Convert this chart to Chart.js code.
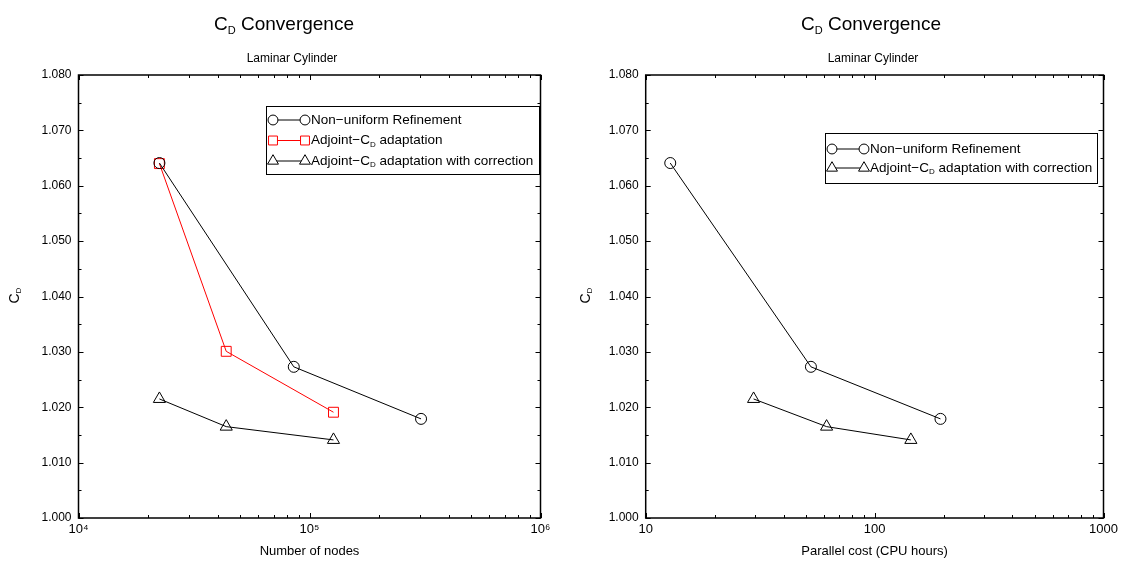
<!DOCTYPE html>
<html>
<head>
<meta charset="utf-8">
<script src="https://cdn.jsdelivr.net/npm/chart.js@4/dist/chart.umd.min.js"></script>
<style>
  html, body { margin: 0; padding: 0; background: #fff; }
  #wrap { position: relative; width: 1122px; height: 563px; background: #fff; overflow: hidden; font-family: "Liberation Sans", Arial, sans-serif; color: #000; }
  canvas { position: absolute; top: 0; }
  .title { position: absolute; width: 400px; text-align: center; font-size: 19px; white-space: nowrap; }
  .title sub { font-size: 11px; vertical-align: -4px; }
  .sub { position: absolute; width: 400px; text-align: center; font-size: 12px; white-space: nowrap; }
</style>
</head>
<body>
<div id="wrap">
  <canvas id="left" width="561" height="563" style="left:0px"></canvas>
  <canvas id="right" width="561" height="563" style="left:561px"></canvas>
  <div class="title" style="left:84px; top:13px;">C<sub>D</sub> Convergence</div>
  <div class="sub" style="left:92px; top:51px;">Laminar Cylinder</div>
  <div class="title" style="left:671px; top:13px;">C<sub>D</sub> Convergence</div>
  <div class="sub" style="left:673px; top:51px;">Laminar Cylinder</div>
</div>
<script>
// ---- data ----
const nodesNonUniform = [22400, 85500, 304000];
const nodesAdjoint    = [22400, 43600, 127000];
const nodesCorrected  = [22400, 43600, 127000];
const costNonUniform  = [12.8, 52.7, 194];
const costCorrected   = [29.6, 61.7, 144];
const cdNonUniform    = [1.0641, 1.0273, 1.0179];
const cdAdjoint       = [1.0640, 1.0301, 1.0191];
const cdCorrected     = [1.0215, 1.0165, 1.0141];

const yTicks = [1.000, 1.010, 1.020, 1.030, 1.040, 1.050, 1.060, 1.070, 1.080];
const xTicksLeft = [1e4, 1e5, 1e6];
const xTickLabelsLeft = ['10\u2074', '10\u2075', '10\u2076'];
const xTicksRight = [10, 100, 1000];
const xTickLabelsRight = ['10', '100', '1000'];

const labelNonUniform = 'Non\u2212uniform Refinement';
const labelAdjoint = 'Adjoint\u2212C_D adaptation';
const labelCorrected = 'Adjoint\u2212C_D adaptation with correction';

const FONT = '"Liberation Sans", Arial, sans-serif';

function pts(xs, ys) { return xs.map((x, i) => ({ x: x, y: ys[i] })); }

function drawRich(ctx, text, x, y, size) {
  // supports "_X" single-char subscripts
  const parts = text.split(/_(.)/);
  let cx = x;
  ctx.textBaseline = 'middle';
  ctx.textAlign = 'left';
  for (let i = 0; i < parts.length; i++) {
    if (i % 2 === 0) {
      ctx.font = size + 'px ' + FONT;
      ctx.fillText(parts[i], cx, y);
      cx += ctx.measureText(parts[i]).width;
    } else {
      const s = Math.round(size * 0.6);
      ctx.font = s + 'px ' + FONT;
      ctx.fillText(parts[i], cx, y + size * 0.3);
      cx += ctx.measureText(parts[i]).width;
    }
  }
}

const framePlugin = {
  id: 'frameTicks',
  afterDraw(chart, args, opts) {
    const ctx = chart.ctx, a = chart.chartArea;
    const xs = chart.scales.x, ys = chart.scales.y;
    ctx.save();
    ctx.strokeStyle = '#000';
    ctx.lineWidth = 1;
    for (let k = 0; k <= 16; k++) {
      const v = 1.0 + k * 0.005;
      const py = Math.round(ys.getPixelForValue(v)) + 0.5;
      const len = (k % 2 === 0) ? 5 : 3;
      ctx.beginPath();
      ctx.moveTo(a.left, py); ctx.lineTo(a.left + len, py);
      ctx.moveTo(a.right, py); ctx.lineTo(a.right - len, py);
      ctx.stroke();
    }
    for (let d = xs.min; d < xs.max * 1.0001; d *= 10) {
      for (let k = 1; k <= 9; k++) {
        const v = k * d;
        if (v > xs.max * 1.0001) break;
        const px = Math.round(xs.getPixelForValue(v)) + 0.5;
        const len = (k === 1) ? 5 : 3;
        ctx.beginPath();
        ctx.moveTo(px, a.bottom); ctx.lineTo(px, a.bottom - len);
        ctx.moveTo(px, a.top); ctx.lineTo(px, a.top + len);
        ctx.stroke();
      }
    }
    ctx.lineWidth = 1.5;
    ctx.strokeRect(a.left, a.top, a.right - a.left, a.bottom - a.top);
    ctx.fillStyle = '#000';
    ctx.translate(opts.yTitleX, (a.top + a.bottom) / 2);
    ctx.rotate(-Math.PI / 2);
    drawRich(ctx, 'C_D', -7, 0, 14);
    ctx.restore();
  }
};

const legendPlugin = {
  id: 'boxLegend',
  afterDraw(chart, args, opts) {
    const ctx = chart.ctx;
    ctx.save();
    ctx.fillStyle = '#fff';
    ctx.fillRect(opts.x, opts.y, opts.w, opts.h);
    ctx.strokeStyle = '#000';
    ctx.lineWidth = 1;
    ctx.strokeRect(opts.x + 0.5, opts.y + 0.5, opts.w, opts.h);
    chart.data.datasets.forEach((ds, i) => {
      const cy = opts.y + opts.firstRow + i * opts.rowH;
      const x1 = opts.x + 7, x2 = opts.x + 39;
      ctx.strokeStyle = ds.borderColor;
      ctx.lineWidth = 1;
      ctx.beginPath(); ctx.moveTo(x1, cy); ctx.lineTo(x2, cy); ctx.stroke();
      const po = { pointStyle: ds.pointStyle, radius: ds.pointRadius * 0.9, rotation: 0, borderWidth: 1 };
      ctx.fillStyle = '#fff';
      Chart.helpers.drawPoint(ctx, po, x1, cy);
      Chart.helpers.drawPoint(ctx, po, x2, cy);
      ctx.fillStyle = '#000';
      drawRich(ctx, ds.label, x2 + 6, cy, 13.5);
    });
    ctx.restore();
  }
};

function makeChart(id, datasets, xTickVals, xTickLabels, xTitle, yWidth, rightPad, legend, yTitleX) {
  return new Chart(document.getElementById(id), {
    type: 'line',
    data: { datasets: datasets },
    plugins: [framePlugin, legendPlugin],
    options: {
      responsive: false,
      devicePixelRatio: 1,
      animation: false,
      layout: { padding: { top: 75, right: rightPad, bottom: 0, left: 0 } },
      plugins: {
        legend: { display: false },
        tooltip: { enabled: false },
        title: { display: false },
        frameTicks: { yTitleX: yTitleX },
        boxLegend: legend
      },
      scales: {
        x: {
          type: 'logarithmic',
          min: xTickVals[0],
          max: xTickVals[xTickVals.length - 1],
          grid: { display: false, drawTicks: false },
          border: { display: false },
          afterBuildTicks: s => { s.ticks = xTickVals.map(v => ({ value: v })); },
          afterFit: s => { s.height = 45; },
          ticks: {
            autoSkip: false, maxRotation: 0, padding: 4, color: '#000',
            font: { family: FONT, size: 13 },
            callback: (v) => { const i = xTickVals.indexOf(v); return i >= 0 ? xTickLabels[i] : ''; }
          },
          title: { display: true, text: xTitle, color: '#000', font: { family: FONT, size: 13 }, padding: { top: 0, bottom: 4 } }
        },
        y: {
          type: 'linear',
          min: 1.0, max: 1.08,
          grid: { display: false, drawTicks: false },
          border: { display: false },
          afterBuildTicks: s => { s.ticks = yTicks.map(v => ({ value: v })); },
          afterFit: s => { s.width = yWidth; },
          ticks: {
            padding: 7, color: '#000',
            font: { family: FONT, size: 12 },
            callback: v => Number(v).toFixed(3)
          }
        }
      }
    }
  });
}

const styleNU = { borderColor: '#000', backgroundColor: 'rgba(255,255,255,0)', pointStyle: 'circle', pointRadius: 5.5, pointBorderWidth: 1, borderWidth: 1, tension: 0 };
const styleAD = { borderColor: '#ff0000', backgroundColor: 'rgba(255,255,255,0)', pointStyle: 'rect', pointRadius: 7, pointBorderWidth: 1, borderWidth: 1, tension: 0 };
const styleCO = { borderColor: '#000', backgroundColor: 'rgba(255,255,255,0)', pointStyle: 'triangle', pointRadius: 7, pointBorderWidth: 1, borderWidth: 1, tension: 0 };

makeChart('left', [
  Object.assign({ label: labelNonUniform, data: pts(nodesNonUniform, cdNonUniform) }, styleNU),
  Object.assign({ label: labelAdjoint, data: pts(nodesAdjoint, cdAdjoint) }, styleAD),
  Object.assign({ label: labelCorrected, data: pts(nodesCorrected, cdCorrected) }, styleCO)
], xTicksLeft, xTickLabelsLeft, 'Number of nodes', 78.5, 20.5,
  { x: 266, y: 106, w: 273, h: 68, firstRow: 14, rowH: 20.5 }, 15);

makeChart('right', [
  Object.assign({ label: labelNonUniform, data: pts(costNonUniform, cdNonUniform) }, styleNU),
  Object.assign({ label: labelCorrected, data: pts(costCorrected, cdCorrected) }, styleCO)
], xTicksRight, xTickLabelsRight, 'Parallel cost (CPU hours)', 84.7, 18.5,
  { x: 264, y: 133, w: 272, h: 50, firstRow: 16, rowH: 19 }, 25);
</script>
</body>
</html>
